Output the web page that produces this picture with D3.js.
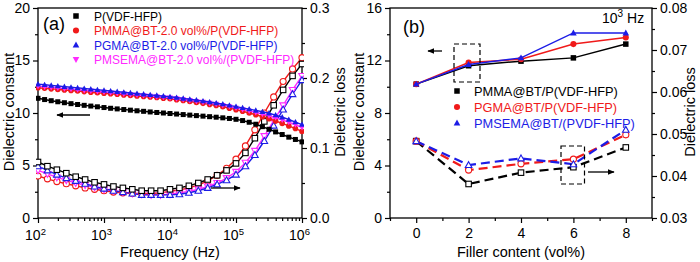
<!DOCTYPE html>
<html><head><meta charset="utf-8">
<script src="https://cdn.jsdelivr.net/npm/d3@7"></script>
<style>body{margin:0;background:#fff} text{font-family:"Liberation Sans",Arial,sans-serif}</style>
</head><body><svg id="c" width="700" height="262"></svg>
<script>
// ---------- DATA ----------
// Panel (a): frequency grid (log10 Hz)
const constExp = [2.0,2.1,2.2,2.3,2.4,2.5,2.6,2.7,2.8,2.9,3.0,3.1,3.2,3.3,3.4,3.5,3.6,3.7,3.8,3.9,4.0,4.1,4.2,4.3,4.4,4.5,4.6,4.7,4.8,4.9,5.0,5.1,5.2,5.3,5.4,5.5,5.6,5.7,5.8,5.9,6.0];
const lossExp = [2.0,2.143,2.286,2.429,2.571,2.714,2.857,3.0,3.143,3.286,3.429,3.571,3.714,3.857,4.0,4.143,4.286,4.429,4.571,4.714,4.857,5.0,5.143,5.286,5.429,5.571,5.714,5.857,6.0];
const seriesA = ["P(VDF-HFP)","PMMA@BT-2.0 vol%/P(VDF-HFP)","PGMA@BT-2.0 vol%/P(VDF-HFP)","PMSEMA@BT-2.0 vol%/(PVDF-HFP)"];
const constA_black = [11.40,11.28,11.17,11.07,10.98,10.89,10.81,10.73,10.66,10.59,10.52,10.45,10.39,10.33,10.27,10.21,10.16,10.10,10.05,10.00,9.95,9.90,9.85,9.80,9.75,9.70,9.65,9.60,9.54,9.48,9.40,9.28,9.12,8.93,8.70,8.45,8.20,7.95,7.70,7.48,7.25];
const constA_red = [12.40,12.35,12.30,12.25,12.19,12.14,12.09,12.04,11.98,11.93,11.88,11.83,11.78,11.72,11.67,11.62,11.57,11.52,11.47,11.41,11.35,11.27,11.19,11.10,11.01,10.92,10.82,10.71,10.59,10.46,10.32,10.16,10.00,9.83,9.65,9.45,9.24,9.01,8.77,8.52,8.25];
const constA_blue = [12.75,12.69,12.63,12.57,12.51,12.45,12.39,12.33,12.27,12.21,12.15,12.09,12.03,11.97,11.91,11.85,11.79,11.73,11.67,11.61,11.55,11.47,11.39,11.31,11.23,11.14,11.05,10.95,10.85,10.73,10.61,10.49,10.37,10.25,10.12,9.98,9.80,9.60,9.38,9.14,8.90];
const constA_mag = [12.55,12.49,12.44,12.38,12.33,12.27,12.22,12.16,12.11,12.05,12.00,11.94,11.89,11.83,11.78,11.72,11.67,11.61,11.56,11.50,11.45,11.37,11.29,11.21,11.13,11.04,10.95,10.85,10.75,10.62,10.48,10.34,10.20,10.05,9.90,9.74,9.55,9.35,9.12,8.88,8.62];
const lossA_black = [.080,.074,.069,.064,.059,.055,.051,.048,.045,.043,.041,.039,.039,.039,.041,.043,.046,.050,.055,.061,.068,.078,.093,.114,.138,.161,.183,.203,.220];
const lossA_red = [.060,.056,.052,.049,.046,.043,.041,.039,.037,.036,.035,.035,.035,.036,.038,.040,.043,.047,.053,.061,.071,.084,.103,.126,.150,.173,.195,.213,.229];
const lossA_blue = [.074,.068,.062,.057,.053,.049,.045,.042,.039,.037,.035,.033,.033,.033,.033,.034,.036,.039,.043,.048,.054,.062,.074,.090,.110,.132,.155,.177,.197];
const lossA_mag = [.068,.063,.058,.054,.050,.047,.044,.041,.039,.037,.035,.034,.033,.033,.034,.036,.038,.041,.045,.050,.057,.066,.079,.096,.117,.139,.161,.183,.203];
const xTicksA = [2,3,4,5,6];
const yTicksA = [0,5,10,15,20];
const yTicksA2 = [0.0,0.1,0.2,0.3];

// Panel (b)
const filler = [0,2,4,6,8];
const seriesB = ["PMMA@BT/P(VDF-HFP)","PGMA@BT/P(VDF-HFP)","PMSEMA@BT/(PVDF-HFP)"];
const constB_black = [10.2,11.6,11.95,12.2,13.25];
const constB_red = [10.2,11.85,12.1,13.25,13.75];
const constB_blue = [10.2,11.7,12.2,14.1,14.1];
const lossB_black = [0.0483,0.0381,0.0408,0.0421,0.0468];
const lossB_red = [0.0483,0.0414,0.0429,0.0440,0.0498];
const lossB_blue = [0.0483,0.0426,0.0442,0.0428,0.0510];
const xTicksB = [0,2,4,6,8];
const yTicksB = [0,4,8,12,16];
const yTicksB2 = [0.03,0.04,0.05,0.06,0.07,0.08];

// ---------- DRAW ----------
const C = {black:"#000000", red:"#f01a1a", blue:"#1c1ce6", mag:"#ff2aff"};
const svg = d3.select("#c");
const T = 218, TOP = 8;
const defs = svg.append("defs");
defs.append("marker").attr("id","ah").attr("viewBox","0 0 10 10").attr("refX",9).attr("refY",5)
  .attr("markerWidth",7).attr("markerHeight",7).attr("markerUnits","userSpaceOnUse").attr("orient","auto")
  .append("path").attr("d","M0,1 L10,5 L0,9 Z").attr("fill","#000");

function drawMarker(g, x, y, kind, filled, color, size){
  const s = size||5;
  let p;
  if(kind==="square") p = g.append("rect").attr("x",x-s/2).attr("y",y-s/2).attr("width",s).attr("height",s);
  else if(kind==="circle") p = g.append("circle").attr("cx",x).attr("cy",y).attr("r",s/2+0.3);
  else if(kind==="up") p = g.append("path").attr("d",`M${x},${y-s*0.62} L${x+s*0.6},${y+s*0.45} L${x-s*0.6},${y+s*0.45} Z`);
  else p = g.append("path").attr("d",`M${x},${y+s*0.62} L${x+s*0.6},${y-s*0.45} L${x-s*0.6},${y-s*0.45} Z`);
  if(filled) p.attr("fill",color).attr("stroke","none");
  else p.attr("fill","#fff").attr("stroke",color).attr("stroke-width",1.1);
}

function axisStyle(g, fs){
  g.selectAll("path.domain").remove();
  g.selectAll("line").attr("stroke","#000").attr("stroke-width",1.2);
  g.selectAll("text").attr("font-size",fs).attr("fill","#000").attr("font-family","Liberation Sans, Arial, sans-serif");
}

// ===== Panel A =====
const xa = d3.scaleLog().domain([1e2,1e6]).range([38,302]);
const ya = d3.scaleLinear().domain([0,20]).range([T,TOP]);
const ya2 = d3.scaleLinear().domain([0,0.3]).range([T,TOP]);
const A = svg.append("g");

const minorA = [];
[2,3,4,5].forEach(e=>{for(let m=2;m<=9;m++) minorA.push(m*Math.pow(10,e));});
axisStyle(A.append("g").attr("transform",`translate(0,${T})`).call(d3.axisBottom(xa).tickValues(minorA).tickSize(3).tickFormat("")),13);
const gxa = A.append("g").attr("transform",`translate(0,${T})`).call(d3.axisBottom(xa).tickValues(xTicksA.map(e=>Math.pow(10,e))).tickSize(5).tickFormat(""));
axisStyle(gxa,14);
gxa.selectAll(".tick").each(function(d){
  const t = d3.select(this).append("text").attr("x",-3).attr("y",22).attr("text-anchor","middle").attr("font-size",14).attr("fill","#000");
  t.append("tspan").text("10");
  t.append("tspan").attr("dy",-5.5).attr("font-size",9.5).text(Math.round(Math.log10(d)));
});
axisStyle(A.append("g").attr("transform","translate(38,0)").call(d3.axisLeft(ya).tickValues([2.5,7.5,12.5,17.5]).tickSize(3).tickFormat("")),13);
axisStyle(A.append("g").attr("transform","translate(38,0)").call(d3.axisLeft(ya).tickValues(yTicksA).tickSize(5).tickPadding(3)),14);
axisStyle(A.append("g").attr("transform","translate(302,0)").call(d3.axisRight(ya2).tickValues([0.05,0.15,0.25]).tickSize(3).tickFormat("")),13);
axisStyle(A.append("g").attr("transform","translate(302,0)").call(d3.axisRight(ya2).tickValues(yTicksA2).tickSize(5).tickPadding(3).tickFormat(d3.format(".1f"))),14);
A.append("rect").attr("x",38).attr("y",TOP).attr("width",264).attr("height",T-TOP).attr("fill","none").attr("stroke","#000").attr("stroke-width",1.3);

defs.append("clipPath").attr("id","clipA").append("rect").attr("x",36).attr("y",TOP).attr("width",268).attr("height",T-TOP+2);
const plotA = A.append("g").attr("clip-path","url(#clipA)");

const lineAc = d3.line().x((d,i)=>xa(Math.pow(10,constExp[i]))).y(d=>ya(d));
const lineAl = d3.line().x((d,i)=>xa(Math.pow(10,lossExp[i]))).y(d=>ya2(d));
const constSets = [[constA_black,C.black,"square"],[constA_red,C.red,"circle"],[constA_blue,C.blue,"up"],[constA_mag,C.mag,"down"]];
const lossSets = [[lossA_black,C.black,"square"],[lossA_red,C.red,"circle"],[lossA_blue,C.blue,"up"],[lossA_mag,C.mag,"down"]];
[1,3,2,0].forEach(k=>{
  const [data,col] = lossSets[k];
  plotA.append("path").datum(data).attr("d",lineAl).attr("fill","none").attr("stroke",col).attr("stroke-width",1.4);
});
[1,3,2,0].forEach(k=>{
  const [data,col,kind] = lossSets[k];
  data.forEach((v,i)=>drawMarker(plotA, xa(Math.pow(10,lossExp[i])), ya2(v), kind, false, col, 5.5));
});
[0,1,3,2].forEach(k=>{
  const [data,col,kind] = constSets[k];
  plotA.append("path").datum(data).attr("d",lineAc).attr("fill","none").attr("stroke",col).attr("stroke-width",1.4);
  data.forEach((v,i)=>drawMarker(plotA, xa(Math.pow(10,constExp[i])), ya(v), kind, true, col, 5));
});
A.append("line").attr("x1",90).attr("y1",115).attr("x2",57).attr("y2",115).attr("stroke","#000").attr("stroke-width",1.3).attr("marker-end","url(#ah)");
A.append("line").attr("x1",211).attr("y1",188).attr("x2",240).attr("y2",188).attr("stroke","#000").attr("stroke-width",1.3).attr("marker-end","url(#ah)");
A.append("text").attr("x",43).attr("y",30).attr("font-size",18).text("(a)");
const legA = [[C.black,"square"],[C.red,"circle"],[C.blue,"up"],[C.mag,"down"]];
seriesA.forEach((s,i)=>{
  const y = 16 + i*14.5;
  drawMarker(A, 76, y, legA[i][1], true, legA[i][0], 5.5);
  A.append("text").attr("x",94).attr("y",y+4.5).attr("font-size",12).attr("fill",legA[i][0]).text(s);
});
A.append("text").attr("transform","translate(14,112) rotate(-90)").attr("text-anchor","middle").attr("font-size",14.5).text("Dielectric constant");
A.append("text").attr("transform","translate(345,112) rotate(-90)").attr("text-anchor","middle").attr("font-size",14.5).text("Dielectric loss");
A.append("text").attr("x",170).attr("y",257).attr("text-anchor","middle").attr("font-size",14.5).text("Frequency (Hz)");

// ===== Panel B =====
const xb = d3.scaleLinear().domain([-1,9]).range([390,652]);
const yb = d3.scaleLinear().domain([0,16]).range([T,TOP]);
const yb2 = d3.scaleLinear().domain([0.03,0.08]).range([T,TOP]);
const B = svg.append("g");
axisStyle(B.append("g").attr("transform",`translate(0,${T})`).call(d3.axisBottom(xb).tickValues([-1,1,3,5,7,9]).tickSize(3).tickFormat("")),13);
axisStyle(B.append("g").attr("transform",`translate(0,${T})`).call(d3.axisBottom(xb).tickValues(xTicksB).tickSize(5).tickPadding(5)),14);
axisStyle(B.append("g").attr("transform","translate(390,0)").call(d3.axisLeft(yb).tickValues([2,6,10,14]).tickSize(3).tickFormat("")),13);
axisStyle(B.append("g").attr("transform","translate(390,0)").call(d3.axisLeft(yb).tickValues(yTicksB).tickSize(5).tickPadding(3)),14);
axisStyle(B.append("g").attr("transform","translate(652,0)").call(d3.axisRight(yb2).tickValues([0.035,0.045,0.055,0.065,0.075]).tickSize(3).tickFormat("")),13);
axisStyle(B.append("g").attr("transform","translate(652,0)").call(d3.axisRight(yb2).tickValues(yTicksB2).tickSize(5).tickPadding(3).tickFormat(d3.format(".2f"))),14);
B.append("rect").attr("x",390).attr("y",TOP).attr("width",262).attr("height",T-TOP).attr("fill","none").attr("stroke","#000").attr("stroke-width",1.3);

const lineBc = d3.line().x((d,i)=>xb(filler[i])).y(d=>yb(d));
const lineBl = d3.line().x((d,i)=>xb(filler[i])).y(d=>yb2(d));
const bC = [[constB_black,C.black,"square"],[constB_red,C.red,"circle"],[constB_blue,C.blue,"up"]];
const bL = [[lossB_black,C.black,"square"],[lossB_red,C.red,"circle"],[lossB_blue,C.blue,"up"]];
bL.forEach(([data,col])=>{
  B.append("path").datum(data).attr("d",lineBl).attr("fill","none").attr("stroke",col).attr("stroke-width",2.2).attr("stroke-dasharray","9,5");
});
bL.forEach(([data,col,kind])=>{
  data.forEach((v,i)=>drawMarker(B, xb(filler[i]), yb2(v), kind, false, col, 5.5));
});
bC.forEach(([data,col,kind])=>{
  B.append("path").datum(data).attr("d",lineBc).attr("fill","none").attr("stroke",col).attr("stroke-width",1.5);
  data.forEach((v,i)=>drawMarker(B, xb(filler[i]), yb(v), kind, true, col, 5.5));
});
B.append("rect").attr("x",454).attr("y",44).attr("width",26).attr("height",38).attr("fill","none").attr("stroke","#000").attr("stroke-width",1.2).attr("stroke-dasharray","5,3");
B.append("rect").attr("x",561).attr("y",146).attr("width",23.5).attr("height",38).attr("fill","none").attr("stroke","#000").attr("stroke-width",1.2).attr("stroke-dasharray","5,3");
B.append("line").attr("x1",442).attr("y1",51).attr("x2",428).attr("y2",51).attr("stroke","#000").attr("stroke-width",1.3).attr("marker-end","url(#ah)");
B.append("line").attr("x1",588).attr("y1",172).attr("x2",614).attr("y2",172).attr("stroke","#000").attr("stroke-width",1.3).attr("marker-end","url(#ah)");
B.append("text").attr("x",403).attr("y",33).attr("font-size",18).text("(b)");
const hz = B.append("text").attr("x",602).attr("y",23).attr("font-size",14);
hz.append("tspan").text("10");
hz.append("tspan").attr("dy",-6).attr("font-size",10).text("3");
hz.append("tspan").attr("dy",6).text(" Hz");
const legB = [[C.black,"square"],[C.red,"circle"],[C.blue,"up"]];
seriesB.forEach((s,i)=>{
  const y = 91 + i*16;
  drawMarker(B, 457, y, legB[i][1], true, legB[i][0], 5.5);
  B.append("text").attr("x",474).attr("y",y+5).attr("font-size",12.8).attr("fill",legB[i][0]).text(s);
});
B.append("text").attr("transform","translate(364,112) rotate(-90)").attr("text-anchor","middle").attr("font-size",14.5).text("Dielectric constant");
B.append("text").attr("transform","translate(695,112) rotate(-90)").attr("text-anchor","middle").attr("font-size",14.5).text("Dielectric loss");
B.append("text").attr("x",521).attr("y",257).attr("text-anchor","middle").attr("font-size",14.5).text("Filler content (vol%)");
</script></body></html>
